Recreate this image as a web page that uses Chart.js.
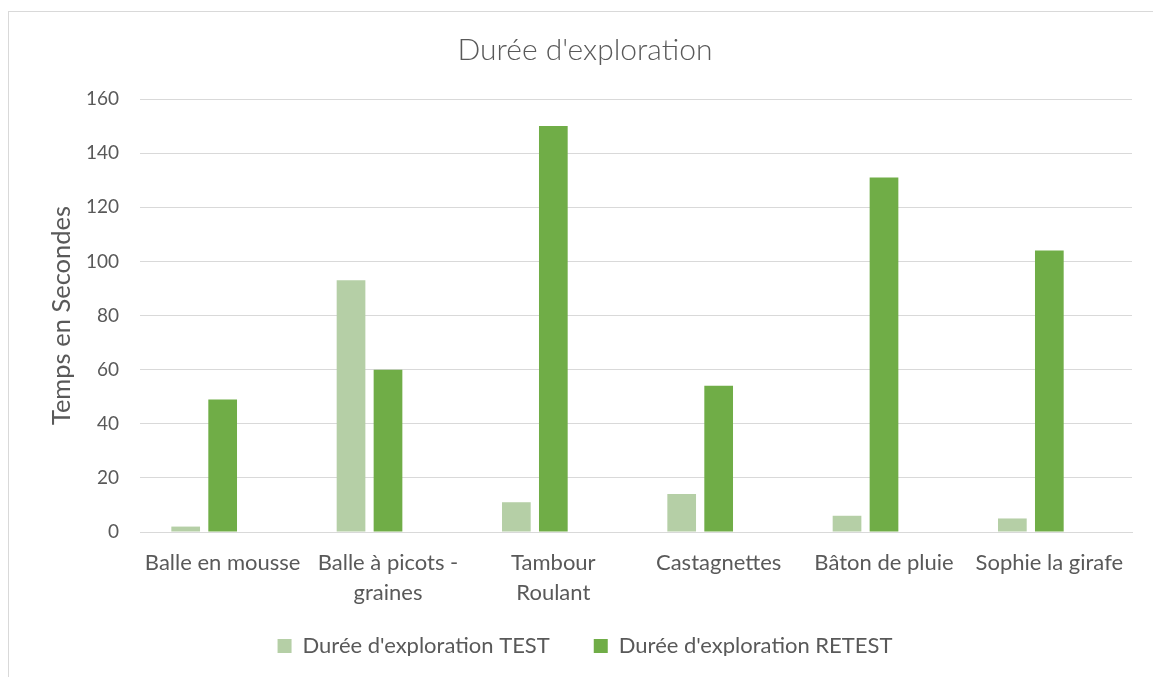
<!DOCTYPE html>
<html lang="fr">
<head>
<meta charset="utf-8">
<title>Durée d'exploration</title>
<script src="https://cdn.jsdelivr.net/npm/chart.js@4/dist/chart.umd.min.js"></script>
<style>
  html, body { margin: 0; padding: 0; background: #ffffff; overflow: hidden; }
  #frame {
    position: absolute; left: 8px; top: 11px; width: 1200px; height: 700px;
    border: 1px solid #d9d9d9; box-sizing: border-box;
  }
  #wrap { position: absolute; left: 0; top: 0; width: 1153px; height: 677px; }
</style>
</head>
<body>
<div id="frame"></div>
<div id="wrap"><canvas id="chart" width="1153" height="677"></canvas></div>
<script>
// Objets explorés (libellés sur deux lignes quand ils sont longs)
const categories = [
  'Balle en mousse',
  ['Balle à picots -', 'graines'],
  ['Tambour', 'Roulant'],
  'Castagnettes',
  'Bâton de pluie',
  'Sophie la girafe'
];

// Durées en secondes
const testValues   = [2, 93, 11, 14, 6, 5];
const retestValues = [49, 60, 150, 54, 131, 104];
// Troisième série vide qui réserve une place dans chaque groupe
const emptyValues  = [null, null, null, null, null, null];

const seriesNames = ["Durée d'exploration TEST", "Durée d'exploration RETEST"];
const yMin = 0, yMax = 160, yStep = 20;

const TEXT = '#595959';
const GRID = '#d9d9d9';
const FONT = 'Lato, "Open Sans", sans-serif';

// Remonte la légende une fois la mise en page calculée, pour laisser
// la place aux étiquettes de l'axe X sur deux lignes.
const legendLift = {
  id: 'legendLift',
  afterLayout(chart, args, opts) {
    const lg = chart.legend;
    if (lg && opts.lift) { lg.top -= opts.lift; lg.bottom -= opts.lift; }
  }
};

new Chart(document.getElementById('chart'), {
  type: 'bar',
  plugins: [legendLift],
  data: {
    labels: categories,
    datasets: [
      { label: seriesNames[0], data: testValues, backgroundColor: '#b5cfa6' },
      { label: seriesNames[1], data: retestValues, backgroundColor: '#70ad47' },
      { label: '', data: emptyValues, backgroundColor: 'rgba(0,0,0,0)' }
    ]
  },
  options: {
    responsive: false,
    animation: false,
    datasets: { bar: { categoryPercentage: 0.671, barPercentage: 0.776 } },
    layout: { padding: { left: 38, right: 21, top: 0, bottom: 0 } },
    plugins: {
      tooltip: { enabled: false },
      legendLift: { lift: 21 },
      title: {
        display: true,
        text: "Durée d'exploration",
        color: TEXT,
        font: { family: FONT, size: 30, weight: '300', lineHeight: 1.2 },
        padding: { top: 32, bottom: 31 }
      },
      legend: {
        position: 'bottom',
        maxHeight: 65,
        labels: {
          color: TEXT,
          font: { family: FONT, size: 22 },
          boxWidth: 14,
          boxHeight: 14,
          padding: 44,
          filter: item => item.datasetIndex < 2
        }
      }
    },
    scales: {
      x: {
        afterFit: s => { s.height = 80; },
        grid: { display: false, drawTicks: false },
        border: { display: true, color: GRID, width: 1 },
        ticks: {
          color: TEXT,
          font: { family: FONT, size: 22, lineHeight: 1.36 },
          padding: 16,
          maxRotation: 0,
          autoSkip: false
        }
      },
      y: {
        min: yMin, max: yMax,
        afterFit: s => { s.width = 102; },
        grid: { color: GRID, lineWidth: 1, drawTicks: false },
        border: { display: false },
        ticks: {
          stepSize: yStep,
          color: TEXT,
          font: { family: FONT, size: 19 },
          padding: 21
        },
        title: {
          display: true,
          text: 'Temps en Secondes',
          color: TEXT,
          font: { family: FONT, size: 25.5, lineHeight: 1.2 },
          padding: { top: 8.7, bottom: 0 }
        }
      }
    }
  }
});
</script>
</body>
</html>
